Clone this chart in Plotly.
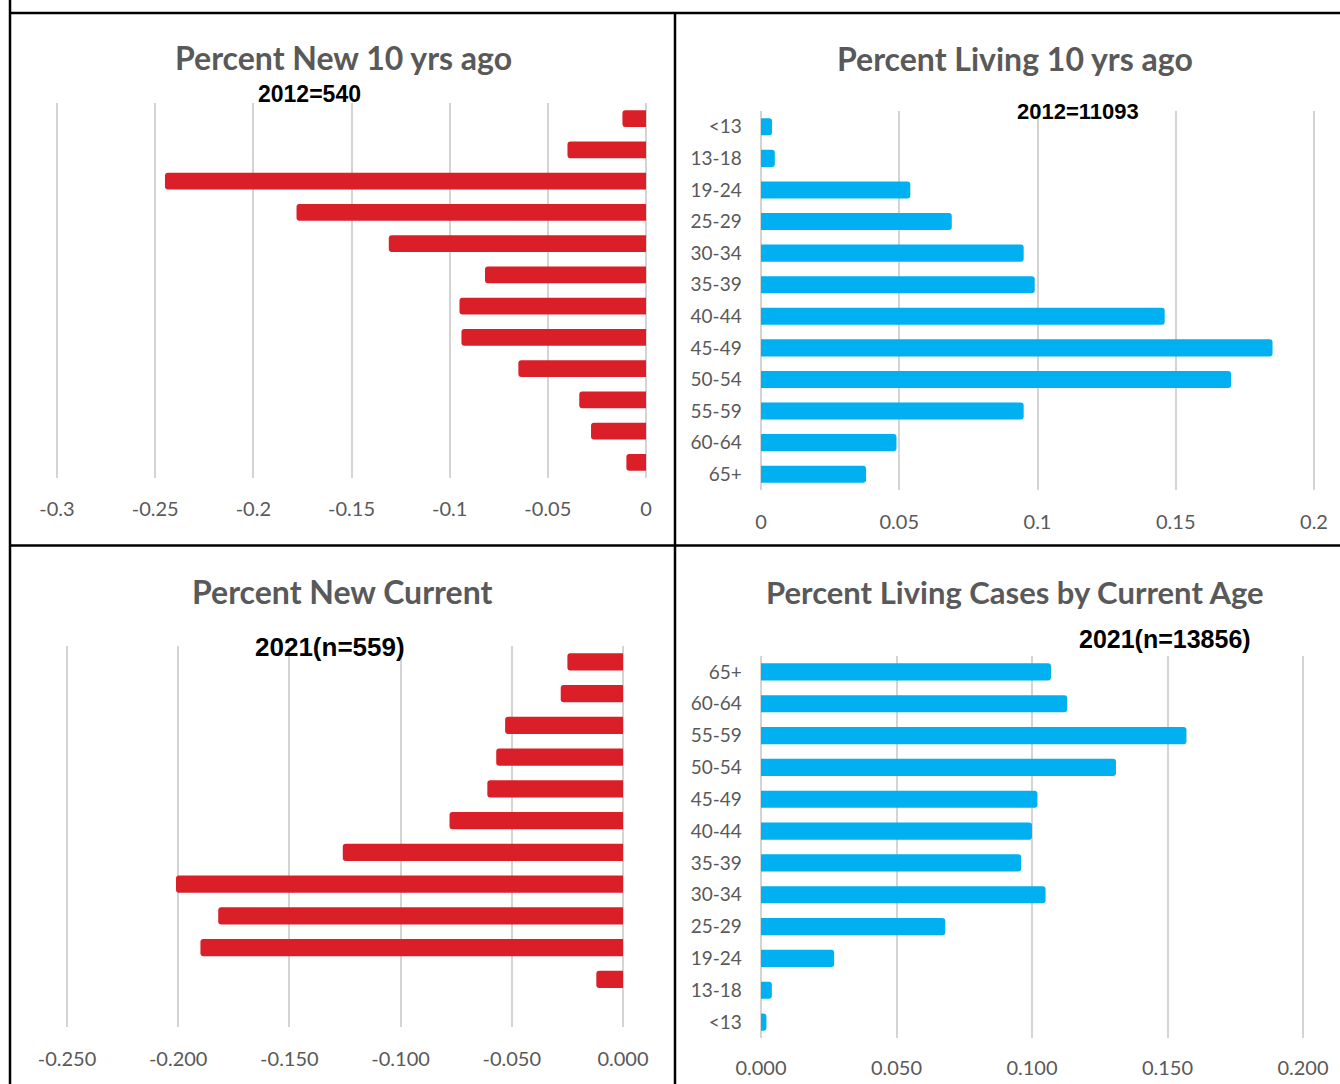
import plotly.graph_objects as go

W, H = 1340, 1084

# age groups, top-to-bottom order of the 10 yrs ago panels
ages = ["<13", "13-18", "19-24", "25-29", "30-34", "35-39",
        "40-44", "45-49", "50-54", "55-59", "60-64", "65+"]

# shares (new cases drawn as negatives)
new_10yr = [-0.012, -0.040, -0.245, -0.178, -0.131, -0.082,
            -0.095, -0.094, -0.065, -0.034, -0.028, -0.010]
living_10yr = [0.004, 0.005, 0.054, 0.069, 0.095, 0.099,
               0.146, 0.185, 0.170, 0.095, 0.049, 0.038]
new_current = [0.0, -0.012, -0.190, -0.182, -0.201, -0.126,
               -0.078, -0.061, -0.057, -0.053, -0.028, -0.025]
living_current = [0.002, 0.004, 0.027, 0.068, 0.105, 0.096,
                  0.100, 0.102, 0.131, 0.157, 0.113, 0.107]

ticks_new_10yr = [-0.3, -0.25, -0.2, -0.15, -0.1, -0.05, 0]
labels_new_10yr = ["-0.3", "-0.25", "-0.2", "-0.15", "-0.1", "-0.05", "0"]
ticks_living_10yr = [0, 0.05, 0.1, 0.15, 0.2]
labels_living_10yr = ["0", "0.05", "0.1", "0.15", "0.2"]
ticks_new_current = [-0.25, -0.2, -0.15, -0.1, -0.05, 0]
labels_new_current = ["-0.250", "-0.200", "-0.150", "-0.100", "-0.050", "0.000"]
ticks_living_current = [0, 0.05, 0.1, 0.15, 0.2]
labels_living_current = ["0.000", "0.050", "0.100", "0.150", "0.200"]

RED = "#DA1F28"
BLUE = "#00B0F0"
GRAY = "#595959"
GRID = "#D4D4D4"
FONT = "Lato, 'Open Sans', sans-serif"
BOLD = "'Liberation Sans', Arial, sans-serif"


def xdomain(p0, p1, v0, v1, r0, r1):
    """Domain (paper fraction) so that value v0 sits at pixel p0 and v1 at p1"""
    s = (p1 - p0) / (v1 - v0)
    return [(p0 + (r0 - v0) * s) / W, (p0 + (r1 - v0) * s) / W]


def ydomain(top, bottom):
    return [1 - bottom / H, 1 - top / H]


panels = [
    # x px of first/last tick, y px of plot top/bottom, top-first order, y labels, label standoff
    dict(vals=new_10yr, color=RED, px=(57, 646), ticks=ticks_new_10yr,
         labels=labels_new_10yr, py=(103, 478), rev=True, ylab=False, so=17),
    dict(vals=living_10yr, color=BLUE, px=(761, 1314), ticks=ticks_living_10yr,
         labels=labels_living_10yr, py=(111, 490), rev=True, ylab=True, so=18),
    dict(vals=new_current, color=RED, px=(67, 623), ticks=ticks_new_current,
         labels=labels_new_current, py=(646, 1027), rev=False, ylab=False, so=18),
    dict(vals=living_current, color=BLUE, px=(761, 1303), ticks=ticks_living_current,
         labels=labels_living_current, py=(656, 1038), rev=False, ylab=True, so=16),
]

fig = go.Figure()
layout = {}
for i, p in enumerate(panels, start=1):
    sfx = "" if i == 1 else str(i)
    t0, t1 = p["ticks"][0], p["ticks"][-1]
    pad = 0.003
    r0, r1 = t0 - pad, t1 + pad
    fig.add_trace(go.Bar(
        x=p["vals"], y=ages, orientation="h",
        marker=dict(color=p["color"], cornerradius=3, line=dict(width=0)),
        xaxis="x" + sfx, yaxis="y" + sfx, showlegend=False,
    ))
    layout["xaxis" + sfx] = dict(
        domain=xdomain(p["px"][0], p["px"][1], t0, t1, r0, r1),
        range=[r0, r1], anchor="y" + sfx, automargin=False,
        tickvals=p["ticks"], ticktext=p["labels"],
        showgrid=True, gridcolor=GRID, gridwidth=1.5,
        zeroline=False, showline=False, ticks="",
        ticklabelstandoff=p["so"],
        tickfont=dict(family=FONT, size=20, color=GRAY),
    )
    layout["yaxis" + sfx] = dict(
        domain=ydomain(*p["py"]), anchor="x" + sfx, automargin=False,
        type="category", categoryorder="array", categoryarray=ages,
        range=[11.5, -0.5] if p["rev"] else [-0.5, 11.5],
        showgrid=False, zeroline=False, showline=False, ticks="",
        showticklabels=p["ylab"], ticklabelstandoff=10,
        tickfont=dict(family=FONT, size=19, color=GRAY),
    )

fig.update_layout(**layout)

titles = [
    ("Percent New 10 yrs ago", 343, 57, 32),
    ("Percent Living 10 yrs ago", 1015, 58, 32),
    ("Percent New Current", 342, 591, 32),
    ("Percent Living Cases by Current Age", 1015, 592, 31),
]
for text, px, py, size in titles:
    fig.add_annotation(
        text=text, x=px / W, y=1 - py / H, xref="paper", yref="paper",
        showarrow=False, xanchor="center", yanchor="middle",
        font=dict(family=FONT, size=size, color=GRAY, weight="bold"),
    )

subtitles = [
    ("2012=540", 309, 94, 23),
    ("2012=11093", 1078, 111, 22),
    ("2021(n=559)", 330, 647, 26),
    ("2021(n=13856)", 1165, 639, 25),
]
for text, px, py, size in subtitles:
    fig.add_annotation(
        text=text, x=px / W, y=1 - py / H, xref="paper", yref="paper",
        showarrow=False, xanchor="center", yanchor="middle",
        font=dict(family=BOLD, size=size, color="black", weight="bold"),
    )

# black frame splitting the page into four panels
frame = [
    (10, 13, W, 13),
    (10, 545.5, W, 545.5),
    (10, 0, 10, H),
    (675, 13, 675, H),
]
for x0, y0, x1, y1 in frame:
    fig.add_shape(
        type="line", xref="paper", yref="paper",
        x0=x0 / W, y0=1 - y0 / H, x1=x1 / W, y1=1 - y1 / H,
        line=dict(color="black", width=2.5),
    )

fig.update_layout(
    width=W, height=H,
    margin=dict(l=0, r=0, t=0, b=0, pad=0),
    paper_bgcolor="white", plot_bgcolor="white",
    bargap=0.46,
)

fig.write_html("out.html", config={"displayModeBar": False},
               post_script="document.body.style.margin = '0';")
